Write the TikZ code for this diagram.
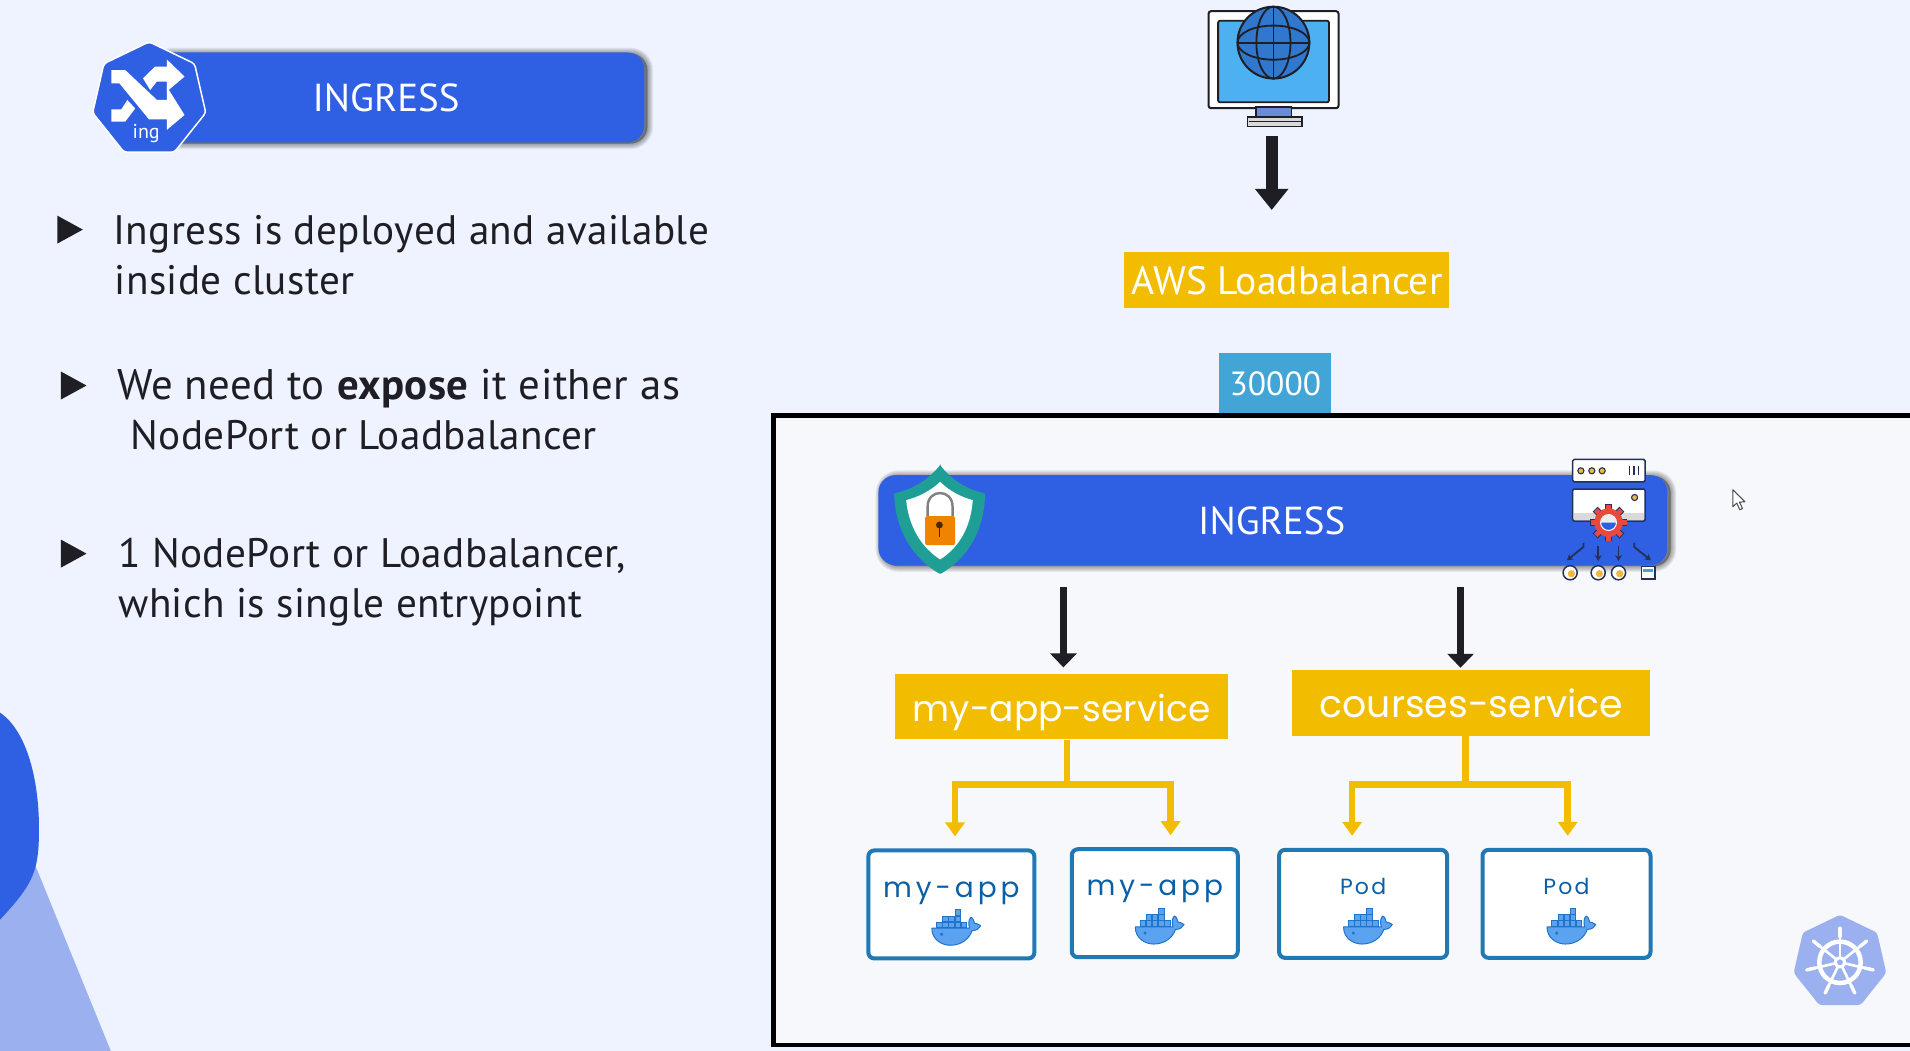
\documentclass[tikz,border=0pt]{standalone}
\usepackage{fontspec}
\setmainfont{PT Sans}
\newfontfamily\geo{Poppins}
\usetikzlibrary{arrows.meta,shapes.geometric,calc}
\definecolor{pagebg}{HTML}{EEF3FF}
\definecolor{boxbg}{HTML}{F7F8FC}
\definecolor{royal}{HTML}{2F5FE3}
\definecolor{paleblue}{HTML}{9BB0EE}
\definecolor{amber}{HTML}{F2BC00}
\definecolor{sky}{HTML}{42A5D5}
\definecolor{podline}{HTML}{2079B5}
\definecolor{podtext}{HTML}{0B5FA5}
\definecolor{ink}{HTML}{1E1E24}
\definecolor{navy}{HTML}{22305A}
\definecolor{teal}{HTML}{1F9E96}
\definecolor{lockor}{HTML}{F08400}
\definecolor{gearred}{HTML}{E8493F}
\definecolor{dot}{HTML}{F0B840}
\definecolor{whalefill}{HTML}{5BA3F0}
\definecolor{whaleline}{HTML}{1F73C9}
\definecolor{screenblue}{HTML}{4DB0F0}
\definecolor{standblue}{HTML}{6A8BD9}
\definecolor{globeblue}{HTML}{2F78CE}
\tikzset{
  lefttext/.style={anchor=base west,inner sep=0pt,text=ink,font=\addfontfeature{LetterSpace=1}\fontsize{41.2}{43}\selectfont},
  bullet/.style={fill=ink,draw=none},
  bar/.style={fill=royal,draw=none,rounded corners=17pt,inner sep=0pt,minimum height=90pt},
  bartitle/.style={inner sep=0pt,text=white,font=\fontsize{39}{41}\selectfont},
  amberbox/.style={fill=amber,draw=none,inner sep=0pt,text=white},
  portbox/.style={fill=sky,draw=none,inner sep=0pt,text=white,font=\fontsize{33.5}{35}\selectfont},
  podbox/.style={fill=white,draw=podline,line width=4pt,rounded corners=6pt,inner sep=0pt,minimum height=108pt},
  podlabel/.style={inner sep=0pt,text=podtext},
  applabel/.style={podlabel,font=\geo\addfontfeature{LetterSpace=14}\fontsize{28}{30}\selectfont},
  podword/.style={podlabel,font=\geo\addfontfeature{LetterSpace=10}\fontsize{22}{24}\selectfont},
  blackarrow/.style={-{Triangle[length=21pt,width=32pt]},line width=12pt,ink},
  thinarrow/.style={-{Triangle[length=14pt,width=26pt]},line width=7pt,ink},
  yellowarrow/.style={-{Triangle[length=14pt,width=19pt]},line width=6.5pt,amber,line join=miter,shorten >=12pt},
  tinyarrow/.style={-{Stealth[length=6pt,width=7pt]},line width=1.8pt,navy},
  whale/.pic={
    \path[fill=whalefill,draw=whaleline,line width=1pt,line join=round]
      (-19,0) .. controls (-19,10) and (-10,14) .. (-4,14)
      .. controls (6,14) and (12,8) .. (14,2)
      .. controls (18,2) and (20,0) .. (21,-2)
      .. controls (18,-4) and (17,-4) .. (16,-4)
      .. controls (15,-8) and (14,-9) .. (13,-9)
      .. controls (11,-7) and (11,-3) .. (12,0) -- cycle;
    \foreach \bx/\by in {-15/-5,-10/-5,-5/-5,0/-5,5/-5,-10/-10,-5/-10,0/-10,0/-15}
      \path[fill=whalefill,draw=whaleline,line width=.9pt] (\bx,\by) rectangle ++(4.6,4.6);
    \fill[whaleline] (-11,5) circle[radius=1.4];
  }
}
\newcommand{\softshade}[4]{%
  \foreach \i in {1,...,9}
    \path[draw=black,fill=black,opacity=.042,line width=\i*1.3pt,rounded corners=17pt,xshift=3pt,yshift=-1pt] (#1,#2) rectangle (#3,#4);}
\begin{document}
\begin{tikzpicture}[x=1.2181pt,y=-1.2181pt]
\useasboundingbox (0,0) rectangle (1568,862.8);
\fill[pagebg] (0,0) rectangle (1568,862.8);

% left decoration
\fill[paleblue] (28,708) -- (91,862.8) -- (0,862.8) -- (0,700) -- cycle;
\fill[royal] (0,585) .. controls (22,600) and (32,640) .. (32,680)
  .. controls (32,715) and (28,725) .. (0,755) -- cycle;

% top banner
\softshade{125}{43}{529}{117}
\node[bar,minimum width=492pt] (topbar) at (327,80) {};
\node[bartitle] (toptext) at (317,80.5) {INGRESS};
\node[regular polygon,regular polygon sides=7,fill=royal,draw=white,line width=1.5pt,minimum size=116pt,rounded corners=3pt,inner sep=0pt] (ingicon) at (122.5,82) {};
\fill[white] (91.5,57.5) -- (102.8,57.5) -- (128.8,82) -- (136.9,82) -- (136.9,71) -- (151.5,94.4) -- (136.9,106.7) -- (136.9,98) -- (122.3,98) -- (98,68.4) -- (91.5,68.4) -- cycle;
\fill[white] (117.4,64.3) -- (127.2,54.7) -- (136.9,54.7) -- (136.9,48.7) -- (151.5,62.9) -- (136.9,75.2) -- (136.9,67) -- (128.8,67) -- (123.3,73.9) -- cycle;
\fill[white] (91.5,89.8) -- (99.6,89.8) -- (104.5,82.1) -- (111,89) -- (102.8,99.9) -- (91.5,99.9) -- cycle;
\node[inner sep=0pt,text=white,font=\fontsize{20}{22}\selectfont] (ingword) at (120,110) {ing};

% bullets and text
\fill[bullet] (47,177) -- (68,188.5) -- (47,200) -- cycle;
\node[lefttext] (l1) at (93,201) {Ingress is deployed and available};
\node[lefttext] (l2) at (94,242) {inside cluster};
\fill[bullet] (50,305) -- (71,316.5) -- (50,328) -- cycle;
\node[lefttext,font=\addfontfeature{LetterSpace=1}\fontsize{42.8}{45}\selectfont] (l3) at (96,328) {We need to \textbf{expose} it either as};
\node[lefttext] (l4) at (107,369) {NodePort or Loadbalancer};
\fill[bullet] (50,443) -- (71,454.5) -- (50,466) -- cycle;
\node[lefttext] (l5) at (97,466) {1 NodePort or Loadbalancer,};
\node[lefttext] (l6) at (97,507) {which is single entrypoint};

% monitor
\node[fill=white,draw=ink,line width=2pt,rounded corners=2.5pt,minimum width=130pt,minimum height=97pt,inner sep=0pt] (monitor) at (1045.5,49) {};
\draw[fill=screenblue,draw=ink,line width=1.8pt,rounded corners=2pt] (1000,17) rectangle (1091,84);
\draw[fill=standblue,draw=ink,line width=1.4pt] (1031,88) rectangle (1060,96);
\draw[fill=white!70!gray,draw=ink,line width=1.6pt] (1024,96) rectangle (1069,104);
\draw[ink,line width=1pt] (1025,100) -- (1068,100);
\draw[fill=globeblue,draw=ink,line width=2pt] (1045.4,35) circle[radius=29.5];
\draw[ink,line width=1.8pt] (1045.4,5.5) -- (1045.4,64.5) (1016,35) -- (1075,35);
\draw[ink,line width=1.8pt] (1045.4,35) ellipse[x radius=14,y radius=29.5];
\draw[ink,line width=1.8pt] (1045.4,35) ellipse[x radius=29.5,y radius=14];

% AWS and port
\node[amberbox,minimum width=325pt,minimum height=56pt,font=\fontsize{39.6}{41}\selectfont] (aws) at (1056.5,230) {AWS Loadbalancer};
\node[portbox,minimum width=112pt,minimum height=62pt] (port) at (1047,315) {30000};
\draw[blackarrow,shorten <=27pt,shorten >=42pt] (1044,0 |- monitor.south) -- (1044,0 |- aws.north);

% cluster frame
\path[fill=boxbg,draw=black,line width=4.5pt] (635,341) rectangle (1590,858);

% ingress bar
\softshade{721}{390}{1369}{464}
\node[bar,minimum width=789pt] (bar) at (1045,427) {};
\node[bartitle] (bartext) at (1044,427.5) {INGRESS};

% shield
\fill[teal,rounded corners=1pt] (771.8,381.8) .. controls (782,395) and (795,402) .. (808.7,405)
  .. controls (808,435) and (795,458) .. (771.8,471.3)
  .. controls (749,458) and (735,435) .. (734,405)
  .. controls (748,402) and (761,395) .. (771.8,381.8) -- cycle;
\fill[white] (771.8,395.5) .. controls (779,403) and (789,408) .. (798.6,410.6)
  .. controls (797,432) and (788,449) .. (771.8,459.3)
  .. controls (756,449) and (746,432) .. (743.9,410.6)
  .. controls (754,408) and (764,403) .. (771.8,395.5) -- cycle;
\draw[gray,line width=2.4pt] (761.5,424) -- (761.5,416) .. controls (761.5,401) and (782,401) .. (782,416) -- (782,424);
\fill[lockor,rounded corners=2pt] (759.5,423.7) rectangle (784,447.5);
\fill[black!70!lockor] (771.2,431) circle[radius=2.8];
\draw[black!70!lockor,line width=1.6pt] (771.2,431) -- (771.2,441);

% server icon
\draw[fill=white,draw=navy,line width=1.5pt,rounded corners=1.5pt] (1291,377.2) rectangle (1350.6,395.5);
\foreach \px in {1297.8,1306.8,1315.3}
  \draw[fill=dot,draw=navy,line width=1.1pt] (\px,386.5) circle[radius=2.5];
\foreach \px in {1337.8,1341.3,1345}
  \draw[navy,line width=1.5pt] (\px,382.6) -- (\px,390);
\draw[fill=white,draw=navy,line width=1.5pt,rounded corners=1.5pt] (1291,401.5) rectangle (1350.6,427.8);
\fill[black!15] (1292,421) rectangle (1349.6,427);
\draw[fill=dot,draw=navy,line width=1.1pt] (1341.9,408.4) circle[radius=2.5];
\foreach \a in {0,45,...,315}
  \draw[navy,line width=7pt] (1320.5,429) -- ++(\a:15.5);
\foreach \a in {0,45,...,315}
  \draw[gearred,line width=5pt] (1320.5,429) -- ++(\a:14.8);
\draw[fill=gearred,draw=gearred] (1320.5,429) circle[radius=11.5];
\draw[fill=royal,draw=white,line width=1pt] (1320.5,429) circle[radius=6.5];
\fill[white!85!gray] (1314,429) -- (1327,429) .. controls (1326,420) and (1315,420) .. (1314,429) -- cycle;
\draw[tinyarrow] (1300,445.6) -- (1300,449) -- (1286.3,460);
\draw[tinyarrow] (1312,448.3) -- (1312,460.6);
\draw[tinyarrow] (1328.7,448.3) -- (1328.7,460.6);
\draw[tinyarrow] (1341.6,445.6) -- (1341.6,449) -- (1355.3,460);
\foreach \px in {1289,1312,1328.7}{
  \draw[fill=white,draw=navy,line width=1.5pt] (\px,470.2) circle[radius=5.8];
  \fill[dot] (\px+1,471) circle[radius=3];
}
\draw[fill=white,draw=navy,line width=1.5pt] (1347.5,465) rectangle (1358.5,475.5);
\fill[sky] (1349,467) rectangle (1357,469.5);

% services
\node[amberbox,minimum width=332.5pt,minimum height=65.8pt,text height=30pt,text depth=1pt,font=\geo\fontsize{36}{38}\selectfont] (svcA) at (871.5,580) {my-app-service};
\node[amberbox,minimum width=358pt,minimum height=65.8pt,font=\geo\fontsize{37.8}{40}\selectfont] (svcB) at (1208,577) {\raisebox{-1pt}{courses-service}};
\draw[thinarrow,shorten <=22pt,shorten >=6pt] (873,0 |- bar.south) -- (873,0 |- svcA.north);
\draw[thinarrow,shorten <=22pt,shorten >=2pt] (1199,0 |- bar.south) -- (1199,0 |- svcB.north);

% pods
\node[podbox,minimum width=166pt] (podA) at (781,742.5) {};
\node[podbox,minimum width=166pt] (podB) at (948,741.5) {};
\node[podbox,minimum width=168pt] (podC) at (1119,742) {};
\node[podbox,minimum width=168pt] (podD) at (1286,742) {};
\node[applabel] (tA) at (781,733) {my-app};
\node[applabel] (tB) at (948,732) {my-app};
\node[podword] (tC) at (1119,727.5) {Pod};
\node[podword] (tD) at (1286,727.5) {Pod};
\pic at (784,762) {whale};
\pic at (951,761) {whale};
\pic at (1122,761) {whale};
\pic at (1289,761) {whale};

% yellow connectors
\draw[yellowarrow] (876,0 |- svcA.south) -- (876,644) -| (784,0 |- podA.north);
\draw[yellowarrow] (876,0 |- svcA.south) -- (876,644) -| (961,0 |- podB.north);
\draw[yellowarrow] (1203,0 |- svcB.south) -- (1203,644) -| (1110,0 |- podC.north);
\draw[yellowarrow] (1203,0 |- svcB.south) -- (1203,644) -| (1287,0 |- podD.north);

% kubernetes logo
\node[regular polygon,regular polygon sides=7,fill=paleblue,draw=none,minimum size=95pt,rounded corners=3pt,inner sep=0pt] (k8s) at (1510.5,790) {};
\begin{scope}[shift={(1510.5,790)}]
  \draw[white,line width=4.5pt] (0,0) circle[radius=17];
  \foreach \k in {0,...,6}{
    \draw[white,line width=2.6pt] (0,0) -- (-90+\k*51.43:28);
    \draw[white,line width=3.4pt,line cap=round] (-90+\k*51.43:21) -- (-90+\k*51.43:28);
  }
  \fill[white] (0,0) circle[radius=5];
  \fill[paleblue] (0,0) circle[radius=2.4];
\end{scope}

% mouse pointer
\path[fill=white,draw=black!70,line width=1pt,line join=round] (1422.5,402) -- (1422.5,416) -- (1425.8,413) -- (1428.3,418.5) -- (1430.5,417.5) -- (1428,412.2) -- (1432.5,412) -- cycle;
\end{tikzpicture}
\end{document}
